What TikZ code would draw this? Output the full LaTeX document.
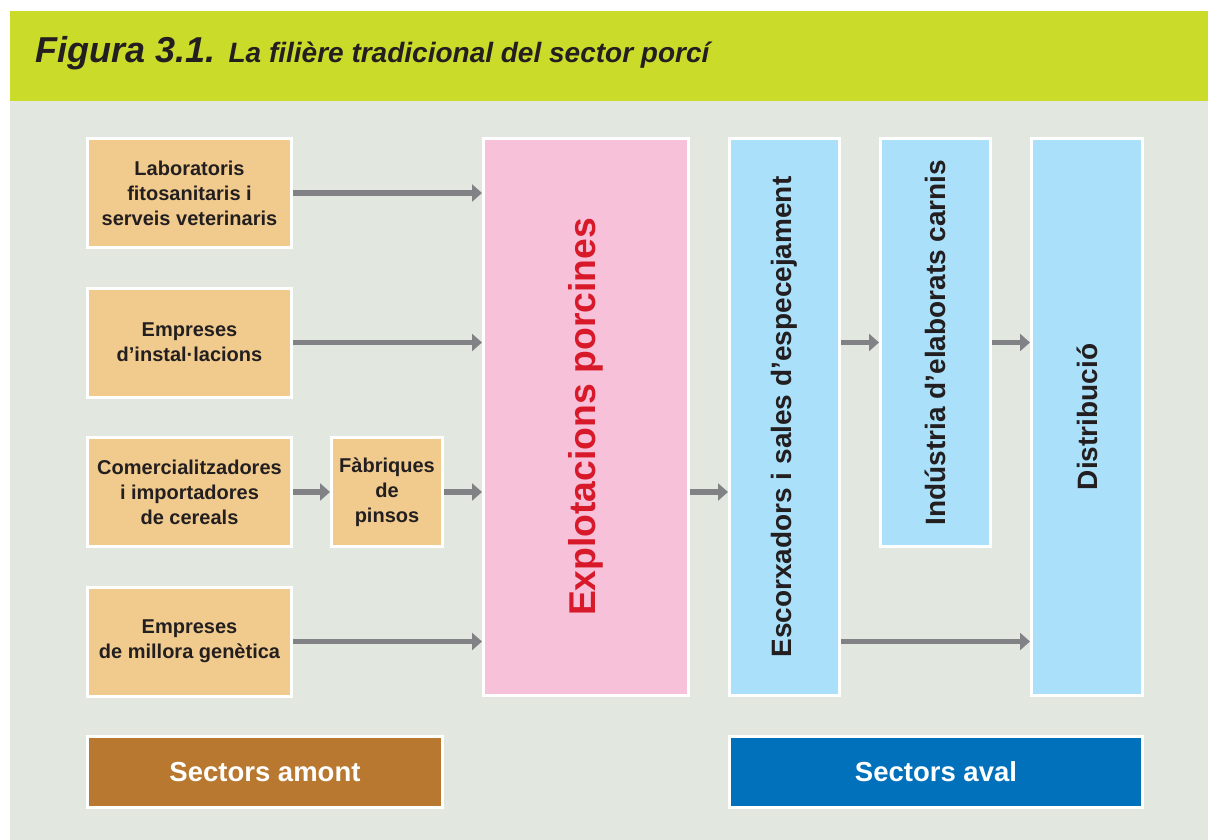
\documentclass[tikz,border=0pt]{standalone}
\usepackage{fontspec}
\setmainfont{Liberation Sans}
\usetikzlibrary{arrows.meta}
\definecolor{hdrgreen}{HTML}{CBDB2A}
\definecolor{bggray}{HTML}{E2E7E0}
\definecolor{boxorange}{HTML}{F1CB8D}
\definecolor{boxpink}{HTML}{F6C1D9}
\definecolor{boxblue}{HTML}{AAE0FA}
\definecolor{amontbrown}{HTML}{B87830}
\definecolor{avalblue}{HTML}{0071BA}
\definecolor{redtxt}{HTML}{D7192A}
\definecolor{arrgray}{HTML}{818285}
\definecolor{darktxt}{HTML}{231F20}
\tikzset{
  base/.style={draw=white, line width=3pt, inner sep=0pt, font=\bfseries, text=darktxt},
  upbox/.style={base, fill=boxorange, align=center, minimum width=204pt, minimum height=109pt,
    font=\fontsize{20}{25}\selectfont\bfseries},
  vbox/.style={base, fill=boxblue, minimum width=110pt, font=\fontsize{28}{32}\selectfont\bfseries},
  sectbox/.style={base, minimum height=71pt, text=white, font=\fontsize{27.5}{32}\selectfont\bfseries},
  flow/.style={arrgray, line width=5.3pt, -{Triangle[length=10pt,width=17pt]}}
}
\begin{document}
\begin{tikzpicture}[x=1pt,y=-1pt]
\useasboundingbox (0,0) rectangle (1208,840);
\fill[white] (0,0) rectangle (1208,840);
\fill[hdrgreen] (10,11) rectangle (1208,101);
\fill[bggray] (10,101) rectangle (1208,840);
\node[anchor=base west, inner sep=0pt, text=darktxt] (title) at (35,63)
  {\fontsize{36}{40}\selectfont\bfseries\itshape Figura 3.1. \fontsize{28}{32}\selectfont La filière tradicional del sector porcí};

\node[upbox] (lab) at (189.5,193) {Laboratoris\\fitosanitaris i\\serveis veterinaris};
\node[upbox] (inst) at (189.5,342.5) {Empreses\\d’instal·lacions};
\node[upbox] (com) at (189.5,492) {Comercialitzadores\\i importadores\\de cereals};
\node[upbox, minimum width=111pt] (fab) at (387,492) {Fàbriques\\de\\pinsos};
\node[upbox] (mill) at (189.5,641.5) {Empreses\\de millora genètica};

\node[base, fill=boxpink, minimum width=205pt, minimum height=557pt] (expl) at (586,417) {};
\node[rotate=90, text=redtxt, font=\fontsize{37.3}{40}\selectfont\bfseries] (explt) at (expl.center) {Explotacions porcines};

\node[vbox, minimum height=557pt] (esc) at (784.5,417) {};
\node[rotate=90, text=darktxt, font=\fontsize{28}{32}\selectfont\bfseries] (esct) at (esc.center) {Escorxadors i sales d’especejament};
\node[vbox, minimum height=408pt] (ind) at (935.5,342.5) {};
\node[rotate=90, text=darktxt, font=\fontsize{28}{32}\selectfont\bfseries] (indt) at (ind.center) {Indústria d’elaborats carnis};
\node[vbox, minimum width=111pt, minimum height=557pt] (dist) at (1087,417) {};
\node[rotate=90, text=darktxt, font=\fontsize{28}{32}\selectfont\bfseries] (distt) at (dist.center) {Distribució};

\node[sectbox, fill=amontbrown, minimum width=355pt] (amont) at (265,772) {Sectors amont};
\node[sectbox, fill=avalblue, minimum width=413pt] (aval) at (936,772) {Sectors aval};

\draw[flow] (lab.east) -- (lab.east -| expl.west);
\draw[flow] (inst.east) -- (inst.east -| expl.west);
\draw[flow] (com.east) -- (fab.west);
\draw[flow] (fab.east) -- (fab.east -| expl.west);
\draw[flow] (mill.east) -- (mill.east -| expl.west);
\draw[flow] (expl.east |- com.east) -- (esc.west |- com.east);
\draw[flow] (esc.east |- ind.east) -- (ind.west);
\draw[flow] (ind.east |- inst.east) -- (dist.west |- inst.east);
\draw[flow] (esc.east |- mill.east) -- (dist.west |- mill.east);
\end{tikzpicture}
\end{document}
